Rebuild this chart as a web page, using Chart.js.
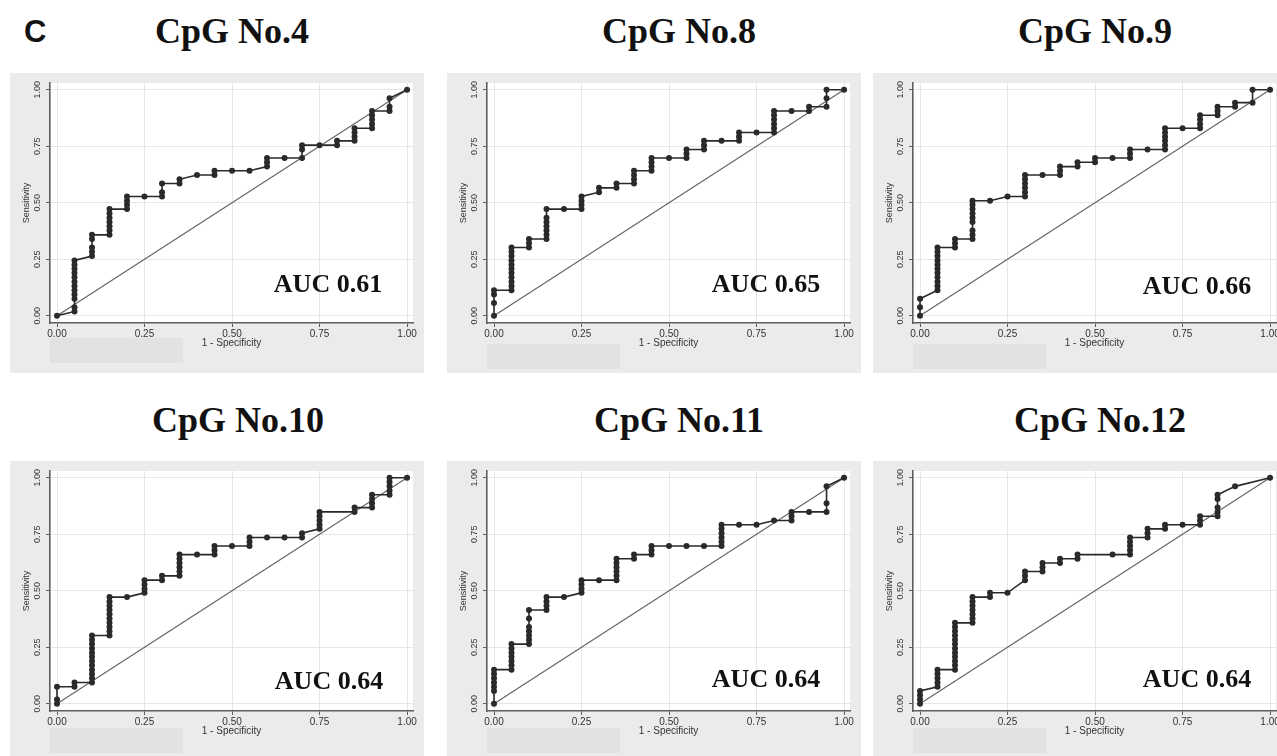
<!DOCTYPE html>
<html>
<head>
<meta charset="utf-8">
<script src="https://cdn.jsdelivr.net/npm/chart.js@4.4.1/dist/chart.umd.min.js"></script>
<style>
  html, body { margin: 0; padding: 0; background: #fff; }
  body { width: 1277px; height: 756px; overflow: hidden; position: relative; }
  .fig-label { position: absolute; left: 24px; top: 16px; font: bold 31px/1 "Liberation Sans", Arial, sans-serif; color: #111; }
  .title { position: absolute; width: 300px; text-align: center; font: bold 36px/1 "Liberation Serif", "Times New Roman", serif; color: #111; white-space: nowrap; }
  .panel { position: absolute; width: 414px; height: 300px; background: #ebebeb; }
  .panel canvas { position: absolute; left: 0; top: 0; }
  .mask { position: absolute; width: 133px; height: 25px; background: #e2e2e2; }
  .auc { position: absolute; width: 200px; text-align: center; font: bold 26px/1 "Liberation Serif", "Times New Roman", serif; color: #111; white-space: nowrap; }
</style>
</head>
<body>
<div class="fig-label">C</div>
<div id="fig"></div>
<script>
document.addEventListener("DOMContentLoaded", function() {
    // Panel titles and AUC labels
    const panelTitles = ['CpG No.4', 'CpG No.8', 'CpG No.9', 'CpG No.10', 'CpG No.11', 'CpG No.12'];
    const aucLabels = ['AUC 0.61', 'AUC 0.65', 'AUC 0.66', 'AUC 0.64', 'AUC 0.64', 'AUC 0.64'];

    // Axis ticks (same on both axes)
    const tickValues = [0, 0.25, 0.5, 0.75, 1];
    const tickLabels = ['0.00', '0.25', '0.50', '0.75', '1.00'];
    const xTitle = '1 - Specificity';
    const yTitle = 'Sensitivity';

    // Reference line
    const chanceLine = [[0, 0], [1, 1]];

    // ROC points, [1 - specificity, sensitivity]
    const roc4 = [
        [0, 0],
        [0.05, 0.019], [0.05, 0.038], [0.05, 0.075], [0.05, 0.094], [0.05, 0.113], [0.05, 0.132], [0.05, 0.151],
        [0.05, 0.170], [0.05, 0.189], [0.05, 0.208], [0.05, 0.226], [0.05, 0.245],
        [0.1, 0.264], [0.1, 0.283], [0.1, 0.302], [0.1, 0.340], [0.1, 0.358],
        [0.15, 0.358], [0.15, 0.377], [0.15, 0.396], [0.15, 0.415], [0.15, 0.434], [0.15, 0.453], [0.15, 0.472],
        [0.2, 0.472], [0.2, 0.491], [0.2, 0.509], [0.2, 0.528],
        [0.25, 0.528],
        [0.3, 0.528], [0.3, 0.547], [0.3, 0.585],
        [0.35, 0.585], [0.35, 0.604],
        [0.4, 0.623],
        [0.45, 0.623], [0.45, 0.642],
        [0.5, 0.642],
        [0.55, 0.642],
        [0.6, 0.660], [0.6, 0.679], [0.6, 0.698],
        [0.65, 0.698],
        [0.7, 0.698], [0.7, 0.736], [0.7, 0.755],
        [0.75, 0.755],
        [0.8, 0.755], [0.8, 0.774],
        [0.85, 0.774], [0.85, 0.792], [0.85, 0.811], [0.85, 0.830],
        [0.9, 0.830], [0.9, 0.849], [0.9, 0.868], [0.9, 0.887], [0.9, 0.906],
        [0.95, 0.906], [0.95, 0.925], [0.95, 0.962],
        [1, 1]
    ];
    const roc8 = [
        [0, 0], [0, 0.057], [0, 0.094], [0, 0.113],
        [0.05, 0.113], [0.05, 0.132], [0.05, 0.151], [0.05, 0.170], [0.05, 0.189], [0.05, 0.208], [0.05, 0.226],
        [0.05, 0.245], [0.05, 0.264], [0.05, 0.283], [0.05, 0.302],
        [0.1, 0.302], [0.1, 0.321], [0.1, 0.340],
        [0.15, 0.340], [0.15, 0.358], [0.15, 0.377], [0.15, 0.396], [0.15, 0.415], [0.15, 0.434], [0.15, 0.472],
        [0.2, 0.472],
        [0.25, 0.472], [0.25, 0.491], [0.25, 0.509], [0.25, 0.528],
        [0.3, 0.547], [0.3, 0.566],
        [0.35, 0.566], [0.35, 0.585],
        [0.4, 0.585], [0.4, 0.604], [0.4, 0.623], [0.4, 0.642],
        [0.45, 0.642], [0.45, 0.660], [0.45, 0.679], [0.45, 0.698],
        [0.5, 0.698],
        [0.55, 0.698], [0.55, 0.717], [0.55, 0.736],
        [0.6, 0.736], [0.6, 0.755], [0.6, 0.774],
        [0.65, 0.774],
        [0.7, 0.774], [0.7, 0.792], [0.7, 0.811],
        [0.75, 0.811],
        [0.8, 0.811], [0.8, 0.830], [0.8, 0.849], [0.8, 0.868], [0.8, 0.887], [0.8, 0.906],
        [0.85, 0.906],
        [0.9, 0.906], [0.9, 0.925],
        [0.95, 0.925], [0.95, 0.962], [0.95, 1],
        [1, 1]
    ];
    const roc9 = [
        [0, 0], [0, 0.038], [0, 0.075],
        [0.05, 0.113], [0.05, 0.132], [0.05, 0.151], [0.05, 0.170], [0.05, 0.189], [0.05, 0.208], [0.05, 0.226],
        [0.05, 0.245], [0.05, 0.264], [0.05, 0.283], [0.05, 0.302],
        [0.1, 0.302], [0.1, 0.321], [0.1, 0.340],
        [0.15, 0.340], [0.15, 0.358], [0.15, 0.377], [0.15, 0.415], [0.15, 0.434], [0.15, 0.453], [0.15, 0.472],
        [0.15, 0.491], [0.15, 0.509],
        [0.2, 0.509],
        [0.25, 0.528],
        [0.3, 0.528], [0.3, 0.547], [0.3, 0.566], [0.3, 0.585], [0.3, 0.604], [0.3, 0.623],
        [0.35, 0.623],
        [0.4, 0.623], [0.4, 0.642], [0.4, 0.660],
        [0.45, 0.660], [0.45, 0.679],
        [0.5, 0.679], [0.5, 0.698],
        [0.55, 0.698],
        [0.6, 0.698], [0.6, 0.717], [0.6, 0.736],
        [0.65, 0.736],
        [0.7, 0.736], [0.7, 0.755], [0.7, 0.774], [0.7, 0.792], [0.7, 0.811], [0.7, 0.830],
        [0.75, 0.830],
        [0.8, 0.830], [0.8, 0.849], [0.8, 0.868], [0.8, 0.887],
        [0.85, 0.887], [0.85, 0.906], [0.85, 0.925],
        [0.9, 0.925], [0.9, 0.943],
        [0.95, 0.943], [0.95, 1],
        [1, 1]
    ];
    const roc10 = [
        [0, 0], [0, 0.019], [0, 0.075],
        [0.05, 0.075], [0.05, 0.094],
        [0.1, 0.094], [0.1, 0.113], [0.1, 0.132], [0.1, 0.151], [0.1, 0.170], [0.1, 0.189], [0.1, 0.208],
        [0.1, 0.226], [0.1, 0.245], [0.1, 0.264], [0.1, 0.283], [0.1, 0.302],
        [0.15, 0.302], [0.15, 0.321], [0.15, 0.340], [0.15, 0.358], [0.15, 0.377], [0.15, 0.396], [0.15, 0.415],
        [0.15, 0.434], [0.15, 0.453], [0.15, 0.472],
        [0.2, 0.472],
        [0.25, 0.491], [0.25, 0.509], [0.25, 0.528], [0.25, 0.547],
        [0.3, 0.547], [0.3, 0.566],
        [0.35, 0.566], [0.35, 0.585], [0.35, 0.604], [0.35, 0.623], [0.35, 0.642], [0.35, 0.660],
        [0.4, 0.660],
        [0.45, 0.660], [0.45, 0.679], [0.45, 0.698],
        [0.5, 0.698],
        [0.55, 0.698], [0.55, 0.717], [0.55, 0.736],
        [0.6, 0.736],
        [0.65, 0.736],
        [0.7, 0.736], [0.7, 0.755],
        [0.75, 0.774], [0.75, 0.792], [0.75, 0.811], [0.75, 0.830], [0.75, 0.849],
        [0.85, 0.849], [0.85, 0.868],
        [0.9, 0.868], [0.9, 0.887], [0.9, 0.906], [0.9, 0.925],
        [0.95, 0.925], [0.95, 0.943], [0.95, 0.962], [0.95, 0.981], [0.95, 1],
        [1, 1]
    ];
    const roc11 = [
        [0, 0], [0, 0.057], [0, 0.075], [0, 0.094], [0, 0.113], [0, 0.132], [0, 0.151],
        [0.05, 0.151], [0.05, 0.170], [0.05, 0.189], [0.05, 0.208], [0.05, 0.226], [0.05, 0.245], [0.05, 0.264],
        [0.1, 0.264], [0.1, 0.283], [0.1, 0.302], [0.1, 0.321], [0.1, 0.340], [0.1, 0.377], [0.1, 0.415],
        [0.15, 0.415], [0.15, 0.434], [0.15, 0.453], [0.15, 0.472],
        [0.2, 0.472],
        [0.25, 0.491], [0.25, 0.509], [0.25, 0.528], [0.25, 0.547],
        [0.3, 0.547],
        [0.35, 0.547], [0.35, 0.566], [0.35, 0.585], [0.35, 0.604], [0.35, 0.623], [0.35, 0.642],
        [0.4, 0.642], [0.4, 0.660],
        [0.45, 0.660], [0.45, 0.679], [0.45, 0.698],
        [0.5, 0.698],
        [0.55, 0.698],
        [0.6, 0.698],
        [0.65, 0.698], [0.65, 0.717], [0.65, 0.736], [0.65, 0.755], [0.65, 0.774], [0.65, 0.792],
        [0.7, 0.792],
        [0.75, 0.792],
        [0.8, 0.811],
        [0.85, 0.811], [0.85, 0.830], [0.85, 0.849],
        [0.9, 0.849],
        [0.95, 0.849], [0.95, 0.887], [0.95, 0.962],
        [1, 1]
    ];
    const roc12 = [
        [0, 0], [0, 0.019], [0, 0.038], [0, 0.057],
        [0.05, 0.075], [0.05, 0.094], [0.05, 0.113], [0.05, 0.132], [0.05, 0.151],
        [0.1, 0.151], [0.1, 0.170], [0.1, 0.189], [0.1, 0.208], [0.1, 0.226], [0.1, 0.245], [0.1, 0.264],
        [0.1, 0.283], [0.1, 0.302], [0.1, 0.321], [0.1, 0.340], [0.1, 0.358],
        [0.15, 0.358], [0.15, 0.377], [0.15, 0.396], [0.15, 0.415], [0.15, 0.434], [0.15, 0.453], [0.15, 0.472],
        [0.2, 0.472], [0.2, 0.491],
        [0.25, 0.491],
        [0.3, 0.547], [0.3, 0.566], [0.3, 0.585],
        [0.35, 0.585], [0.35, 0.604], [0.35, 0.623],
        [0.4, 0.623], [0.4, 0.642],
        [0.45, 0.642], [0.45, 0.660],
        [0.55, 0.660],
        [0.6, 0.660], [0.6, 0.679], [0.6, 0.698], [0.6, 0.717], [0.6, 0.736],
        [0.65, 0.736], [0.65, 0.755], [0.65, 0.774],
        [0.7, 0.774], [0.7, 0.792],
        [0.75, 0.792],
        [0.8, 0.792], [0.8, 0.811], [0.8, 0.830],
        [0.85, 0.830], [0.85, 0.849], [0.85, 0.868], [0.85, 0.906], [0.85, 0.925],
        [0.9, 0.962],
        [1, 1]
    ];
    const rocSeries = [roc4, roc8, roc9, roc10, roc11, roc12];

    // Page layout (pixels)
    const panelLeft = [10, 447, 873, 10, 447, 873];
    const panelTop = [73, 73, 73, 461, 461, 461];
    const titleCenter = [232, 679, 1095, 238, 679, 1100];
    const titleBaseline = [43, 43, 43, 432, 432, 432];
    const aucCenter = [328, 766, 1197, 329, 766, 1197];
    const aucBaseline = [293, 293, 295, 690, 688, 688];
    const maskTop = [265, 271, 271, 267, 267, 267];

    const colorCurve = '#2a2a2a';
    const colorDiag = '#666';
    const colorAxis = '#5e5e5e';
    const colorGrid = '#e6e6e6';
    const colorText = '#333';

    const whitePlot = {
        id: 'whitePlot',
        beforeDraw(chart) {
            const a = chart.chartArea;
            chart.ctx.save();
            chart.ctx.fillStyle = '#fff';
            chart.ctx.fillRect(a.left, a.top, a.right - a.left, a.bottom - a.top);
            chart.ctx.restore();
        }
    };

    const fig = document.getElementById('fig');

    rocSeries.forEach(function(roc, i) {
        const title = document.createElement('div');
        title.className = 'title';
        title.textContent = panelTitles[i];
        title.style.left = (titleCenter[i] - 150) + 'px';
        title.style.top = (titleBaseline[i] - 30) + 'px';
        fig.appendChild(title);

        const panel = document.createElement('div');
        panel.className = 'panel';
        panel.style.left = panelLeft[i] + 'px';
        panel.style.top = panelTop[i] + 'px';
        const canvas = document.createElement('canvas');
        canvas.width = 414;
        canvas.height = 300;
        panel.appendChild(canvas);
        const mask = document.createElement('div');
        mask.className = 'mask';
        mask.style.left = '40px';
        mask.style.top = maskTop[i] + 'px';
        panel.appendChild(mask);
        fig.appendChild(panel);

        const auc = document.createElement('div');
        auc.className = 'auc';
        auc.textContent = aucLabels[i];
        auc.style.left = (aucCenter[i] - 100) + 'px';
        auc.style.top = (aucBaseline[i] - 22) + 'px';
        fig.appendChild(auc);

        const xFont = { family: 'Liberation Sans', size: 10 };
        const yFont = { family: 'Liberation Sans', size: 9 };
        new Chart(canvas, {
            type: 'scatter',
            data: {
                datasets: [
                    {
                        data: roc.map(p => ({ x: p[0], y: p[1] })),
                        showLine: true,
                        borderColor: colorCurve,
                        borderWidth: 1.6,
                        pointRadius: 3,
                        pointBackgroundColor: colorCurve,
                        pointBorderWidth: 0,
                        order: 0
                    },
                    {
                        data: chanceLine.map(p => ({ x: p[0], y: p[1] })),
                        showLine: true,
                        borderColor: colorDiag,
                        borderWidth: 1.2,
                        pointRadius: 0,
                        order: 1
                    }
                ]
            },
            options: {
                responsive: false,
                animation: false,
                events: [],
                layout: { padding: { top: 10, right: 11, left: 0, bottom: 0 } },
                plugins: { legend: { display: false }, tooltip: { enabled: false } },
                scales: {
                    x: {
                        type: 'linear',
                        min: -0.02,
                        max: 1.017,
                        afterBuildTicks: s => { s.ticks = tickValues.map(v => ({ value: v })); },
                        afterFit: s => { s.height = 50; },
                        ticks: { callback: (v, k) => tickLabels[k], font: xFont, color: colorText, padding: 1, maxRotation: 0 },
                        grid: { color: colorGrid, tickColor: colorAxis, tickLength: 4 },
                        border: { color: colorAxis, width: 1.6 },
                        title: { display: true, text: xTitle, font: xFont, color: colorText, padding: { top: 0, bottom: 24 } }
                    },
                    y: {
                        type: 'linear',
                        min: -0.032,
                        max: 1.03,
                        afterBuildTicks: s => { s.ticks = tickValues.map(v => ({ value: v })); },
                        afterFit: s => { s.width = 40; },
                        ticks: { callback: (v, k) => tickLabels[k], font: yFont, color: colorText, padding: 0, minRotation: 90, maxRotation: 90, crossAlign: 'center' },
                        grid: { color: colorGrid, tickColor: colorAxis, tickLength: 4 },
                        border: { color: colorAxis, width: 1.6 },
                        title: { display: true, text: yTitle, font: yFont, color: colorText, padding: { top: 11, bottom: 0 } }
                    }
                }
            },
            plugins: [whitePlot]
        });
    });
});
</script>
</body>
</html>
